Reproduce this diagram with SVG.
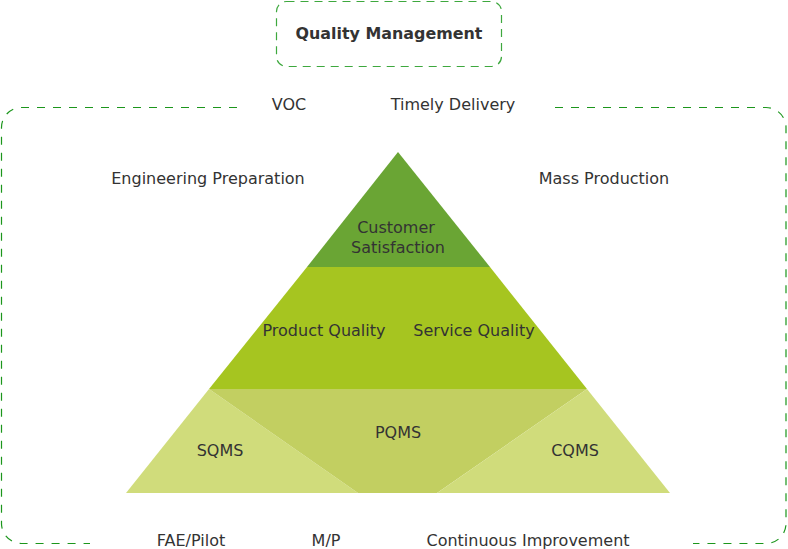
<svg xmlns="http://www.w3.org/2000/svg" width="788" height="549" viewBox="0 0 788 549">
<style>
text{font-family:"DejaVu Sans","Verdana",sans-serif;font-size:16px;fill:#333;text-anchor:middle}
.frame{fill:none;stroke:#1c961c;stroke-width:1.2;stroke-dasharray:8 8}
.box{fill:#fff;stroke:#3ea83e;stroke-width:1.2;stroke-dasharray:8 6}
</style>
<g id="quality-management">
<rect class="box" x="276.5" y="1.5" width="225" height="65" rx="10"/>
<text x="389" y="39" style="font-weight:bold;font-size:15.9px">Quality Management</text>
</g>
<g id="frame">
<path class="frame" d="M237,107.5 L22,107.5 A20,20 0 0 0 1.5,128 L1.5,524 A20,20 0 0 0 22,543.5 L90,543.5"/>
<path class="frame" d="M555,107.5 L766,107.5 A20,20 0 0 1 786,128 L786,524 A20,20 0 0 1 766,543.5 L693,543.5"/>
</g>
<g id="pyramid">
<polygon id="top" points="398,152 307,267 490,267" fill="#6aa534"/>
<polygon id="middle" points="307,267 490,267 587,389 209,389" fill="#a6c520"/>
<polygon id="sqms" points="209,389 358,493 126,493" fill="#d0dc7b"/>
<polygon id="pqms" points="209,389 587,389 437,493 358,493" fill="#c2cf61"/>
<polygon id="cqms" points="587,389 670,493 437,493" fill="#d0dc7b"/>
</g>
<g id="labels">
<text x="289" y="110">VOC</text>
<text x="453" y="110">Timely Delivery</text>
<text x="208" y="184">Engineering Preparation</text>
<text x="604" y="184">Mass Production</text>
<text x="396" y="233">Customer</text>
<text x="398" y="253">Satisfaction</text>
<text x="324" y="336">Product Quality</text>
<text x="474" y="336">Service Quality</text>
<text x="398" y="438">PQMS</text>
<text x="220" y="456">SQMS</text>
<text x="575" y="456">CQMS</text>
<text x="191" y="546">FAE/Pilot</text>
<text x="326" y="546">M/P</text>
<text x="528" y="546">Continuous Improvement</text>
</g>
</svg>
